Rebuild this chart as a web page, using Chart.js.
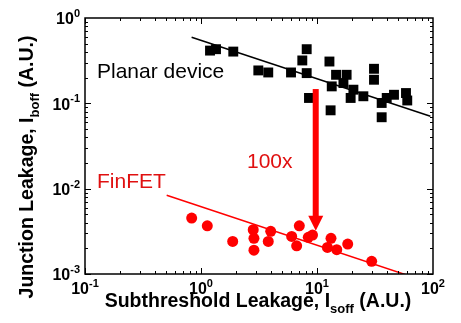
<!DOCTYPE html>
<html>
<head>
<meta charset="utf-8">
<script src="https://cdn.jsdelivr.net/npm/chart.js@4"></script>
<style>
  html, body { margin: 0; padding: 0; background: #fff; }
</style>
</head>
<body>
<canvas id="chart" width="461" height="323"></canvas>
<script>
// planar devices: subthreshold leakage (x) vs junction leakage (y)
const planarX = [1.196, 1.347, 1.898, 3.12, 3.80, 5.97, 7.47, 8.15, 8.15, 8.53,
                 12.8, 14.6, 18.0, 13.4, 16.9, 20.6, 19.5, 25.1, 13.1, 31.0,
                 31.0, 36.1, 36.1, 39.9, 46.1, 58.5, 60.0];
const planarY = [0.415, 0.431, 0.404, 0.243, 0.230, 0.230, 0.318, 0.431, 0.226, 0.1156,
                 0.309, 0.216, 0.216, 0.158, 0.173, 0.1445, 0.1156, 0.121, 0.0828, 0.254,
                 0.189, 0.101, 0.0687, 0.1156, 0.126, 0.132, 0.108];

// FinFET devices
const finfetX = [0.831, 1.133, 1.876, 2.82, 2.86, 2.86, 3.99, 3.80, 6.05, 7.04,
                 6.68, 8.41, 9.15, 13.2, 12.3, 14.8, 18.4, 29.6];
const finfetY = [0.00452, 0.00367, 0.00241, 0.00330, 0.00262, 0.00190, 0.00316, 0.00241, 0.00276, 0.00367,
                 0.00214, 0.00269, 0.00286, 0.00262, 0.00205, 0.00193, 0.00224, 0.00141];

// trend lines (end points)
const planarFitX = [0.83, 95];
const planarFitY = [0.595, 0.0705];
const finfetFitX = [0.506, 64];
const finfetFitY = [0.00838, 0.00094];

// 100x arrow
const arrowX = 9.75;
const arrowY = [0.147, 0.00321];

// decade exponents for tick labels
const xDecades = [-1, 0, 1, 2];
const yDecades = [-3, -2, -1, 0];

const FONT = '"Liberation Sans", Arial, sans-serif';
const RED = '#ff0000';

function pts(xs, ys) { return xs.map((x, i) => ({ x: x, y: ys[i] })); }

// draws runs of text with different fonts / vertical offsets, centered on cx
function drawRich(ctx, parts, cx, cy) {
  let total = 0;
  parts.forEach(p => { ctx.font = p.font; p.w = ctx.measureText(p.text).width; total += p.w; });
  let x = cx - total / 2;
  ctx.textAlign = 'left';
  ctx.textBaseline = 'middle';
  parts.forEach(p => {
    ctx.font = p.font;
    ctx.fillText(p.text, x, cy + (p.dy || 0));
    x += p.w;
  });
  return total;
}

function powerParts(e) {
  return [
    { text: '10', font: 'bold 16px ' + FONT },
    { text: String(e), font: 'bold 11px ' + FONT, dy: -6 }
  ];
}

const axesPlugin = {
  id: 'axesPlugin',
  afterDatasetsDraw(chart) {
    const ctx = chart.ctx;
    const xs = chart.scales.x, ys = chart.scales.y;
    const a = chart.chartArea;
    ctx.save();

    // arrow
    const ax = xs.getPixelForValue(arrowX);
    const ay0 = ys.getPixelForValue(arrowY[0]);
    const ay1 = ys.getPixelForValue(arrowY[1]);
    ctx.fillStyle = RED;
    ctx.fillRect(ax - 3, ay0, 6, ay1 - ay0 - 14);
    ctx.beginPath();
    ctx.moveTo(ax - 7.5, ay1 - 15);
    ctx.lineTo(ax + 7.5, ay1 - 15);
    ctx.lineTo(ax, ay1);
    ctx.closePath();
    ctx.fill();

    // frame
    ctx.strokeStyle = '#000';
    ctx.lineWidth = 1.5;
    ctx.strokeRect(a.left, a.top, a.right - a.left, a.bottom - a.top);

    // inward ticks on all four sides
    ctx.lineWidth = 1;
    ctx.beginPath();
    for (let e = -1; e < 2; e++) {
      for (let m = 1; m < 10; m++) {
        const v = m * Math.pow(10, e);
        const px = Math.round(xs.getPixelForValue(v)) + 0.5;
        const len = m === 1 ? 6 : 3;
        ctx.moveTo(px, a.bottom); ctx.lineTo(px, a.bottom - len);
        ctx.moveTo(px, a.top); ctx.lineTo(px, a.top + len);
      }
    }
    for (let e = -3; e < 0; e++) {
      for (let m = 1; m < 10; m++) {
        const v = m * Math.pow(10, e);
        const py = Math.round(ys.getPixelForValue(v)) + 0.5;
        const len = m === 1 ? 6 : 3;
        ctx.moveTo(a.left, py); ctx.lineTo(a.left + len, py);
        ctx.moveTo(a.right, py); ctx.lineTo(a.right - len, py);
      }
    }
    ctx.stroke();

    // tick labels
    ctx.fillStyle = '#000';
    xDecades.forEach(e => {
      drawRich(ctx, powerParts(e), xs.getPixelForValue(Math.pow(10, e)), a.bottom + 16);
    });
    yDecades.forEach(e => {
      const parts = powerParts(e);
      let w = 0;
      parts.forEach(p => { ctx.font = p.font; w += ctx.measureText(p.text).width; });
      drawRich(ctx, parts, a.left - 5 - w / 2, ys.getPixelForValue(Math.pow(10, e)) + 2);
    });

    // axis titles
    const tf = 'bold 19.5px ' + FONT, sf = 'bold 13px ' + FONT;
    drawRich(ctx, [
      { text: 'Subthreshold Leakage, I', font: tf },
      { text: 'soff', font: sf, dy: 7 },
      { text: ' (A.U.)', font: tf }
    ], 258, 302);

    ctx.save();
    ctx.translate(28, 167);
    ctx.rotate(-Math.PI / 2);
    drawRich(ctx, [
      { text: 'Junction Leakage, I', font: tf },
      { text: 'boff', font: sf, dy: 7 },
      { text: ' (A.U.)', font: tf }
    ], 0, 0);
    ctx.restore();

    // series annotations
    ctx.font = '21px ' + FONT;
    ctx.textAlign = 'left';
    ctx.textBaseline = 'middle';
    ctx.fillStyle = '#000';
    ctx.fillText('Planar device', 97, 72);
    ctx.fillStyle = '#e01010';
    ctx.fillText('FinFET', 97, 182);
    ctx.fillText('100x', 247, 162);

    ctx.restore();
  }
};

new Chart(document.getElementById('chart'), {
  data: {
    datasets: [
      {
        type: 'line',
        data: pts(planarFitX, planarFitY),
        borderColor: '#000',
        borderWidth: 1.5,
        pointRadius: 0,
        fill: false
      },
      {
        type: 'line',
        data: pts(finfetFitX, finfetFitY),
        borderColor: RED,
        borderWidth: 1.5,
        pointRadius: 0,
        fill: false
      },
      {
        type: 'scatter',
        data: pts(planarX, planarY),
        pointStyle: 'rect',
        pointRadius: 7,
        backgroundColor: '#000',
        borderWidth: 0
      },
      {
        type: 'scatter',
        data: pts(finfetX, finfetY),
        pointStyle: 'circle',
        pointRadius: 5.5,
        backgroundColor: RED,
        borderWidth: 0
      }
    ]
  },
  options: {
    responsive: false,
    animation: false,
    devicePixelRatio: 1,
    layout: { padding: { left: 85, top: 18, right: 28, bottom: 49 } },
    plugins: { legend: { display: false }, tooltip: { enabled: false } },
    scales: {
      x: { type: 'logarithmic', min: 0.1, max: 100, display: false },
      y: { type: 'logarithmic', min: 0.001, max: 1, display: false }
    }
  },
  plugins: [axesPlugin]
});
</script>
</body>
</html>
